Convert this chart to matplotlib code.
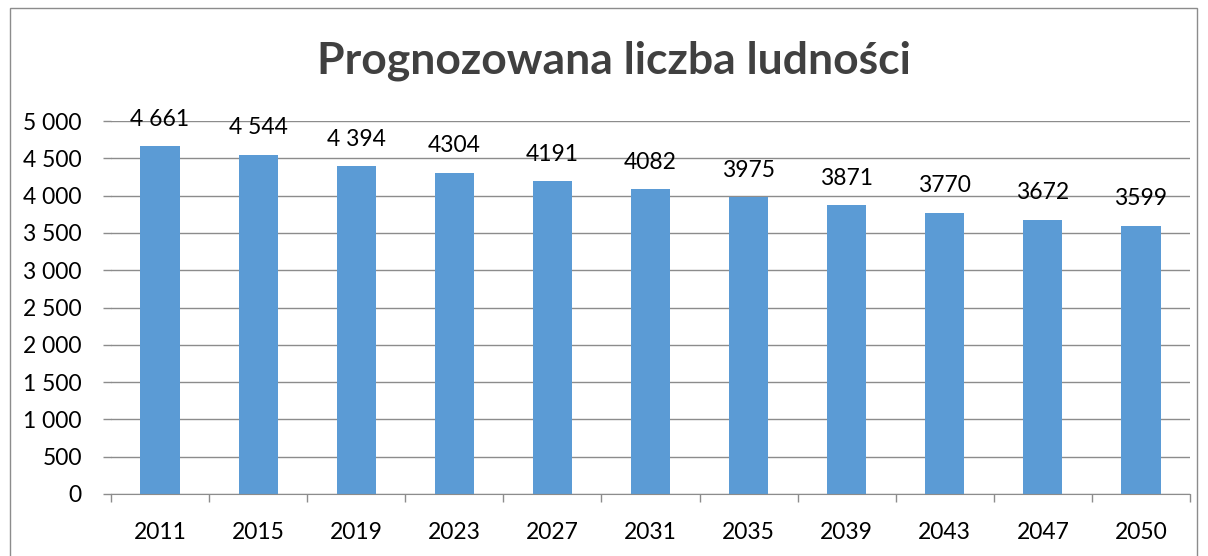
import matplotlib
matplotlib.use("Agg")
import matplotlib.pyplot as plt
from matplotlib.patches import Rectangle
from matplotlib.ticker import FuncFormatter, FixedLocator
import numpy as np

years = ["2011", "2015", "2019", "2023", "2027", "2031", "2035", "2039", "2043", "2047", "2050"]
population = [4661, 4544, 4394, 4304, 4191, 4082, 3975, 3871, 3770, 3672, 3599]
value_labels = ["4 661", "4 544", "4 394", "4304", "4191", "4082", "3975", "3871", "3770", "3672", "3599"]
y_ticks = [0, 500, 1000, 1500, 2000, 2500, 3000, 3500, 4000, 4500, 5000]

plt.rcParams["font.family"] = ["Lato", "DejaVu Sans"]

W, H = 1208, 556
fig = plt.figure(figsize=(W / 100, H / 100), dpi=100)
fig.patch.set_facecolor("white")

# outer chart frame
fig.add_artist(Rectangle((10 / W, -0.05), 1187 / W, 1.05 - 8 / H,
                         transform=fig.transFigure, fill=False,
                         edgecolor="#8c8c8c", linewidth=1))

ax = fig.add_axes([111 / W, 1 - 494 / H, 1079 / W, 373 / H])
x = np.arange(len(years))
bars = ax.bar(x, population, width=0.4, color="#5B9BD5", zorder=3)

ax.set_xlim(-0.5, len(years) - 0.5)
ax.set_ylim(0, 5000)
ax.yaxis.set_major_locator(FixedLocator(y_ticks))
ax.yaxis.set_major_formatter(FuncFormatter(lambda v, p: f"{int(v):,}".replace(",", " ")))
ax.grid(axis="y", color="#8c8c8c", linewidth=1, zorder=0)

for s in ["top", "right", "left"]:
    ax.spines[s].set_visible(False)
ax.spines["bottom"].set_color("#8c8c8c")
ax.spines["bottom"].set_zorder(4)

ax.tick_params(axis="y", length=6, width=1, color="#8c8c8c", pad=15,
               labelsize=16.5, labelcolor="black")
ax.set_xticks(x)
ax.set_xticklabels(years)
ax.set_xticks(np.arange(len(years) + 1) - 0.5, minor=True)
ax.tick_params(axis="x", which="major", length=0, pad=20, labelsize=16.5)
ax.tick_params(axis="x", which="minor", length=6, width=1, color="#8c8c8c")

for xi, val, lab in zip(x, population, value_labels):
    ax.annotate(lab, (xi, val), xytext=(0, 19.5), textcoords="offset points",
                ha="center", va="center", fontsize=16.5, color="black")

fig.text(614 / W, 1 - 61 / H, "Prognozowana liczba ludności", ha="center", va="center",
         fontsize=32, fontweight="bold", color="#404040")

fig.savefig("out.png", dpi=100)
